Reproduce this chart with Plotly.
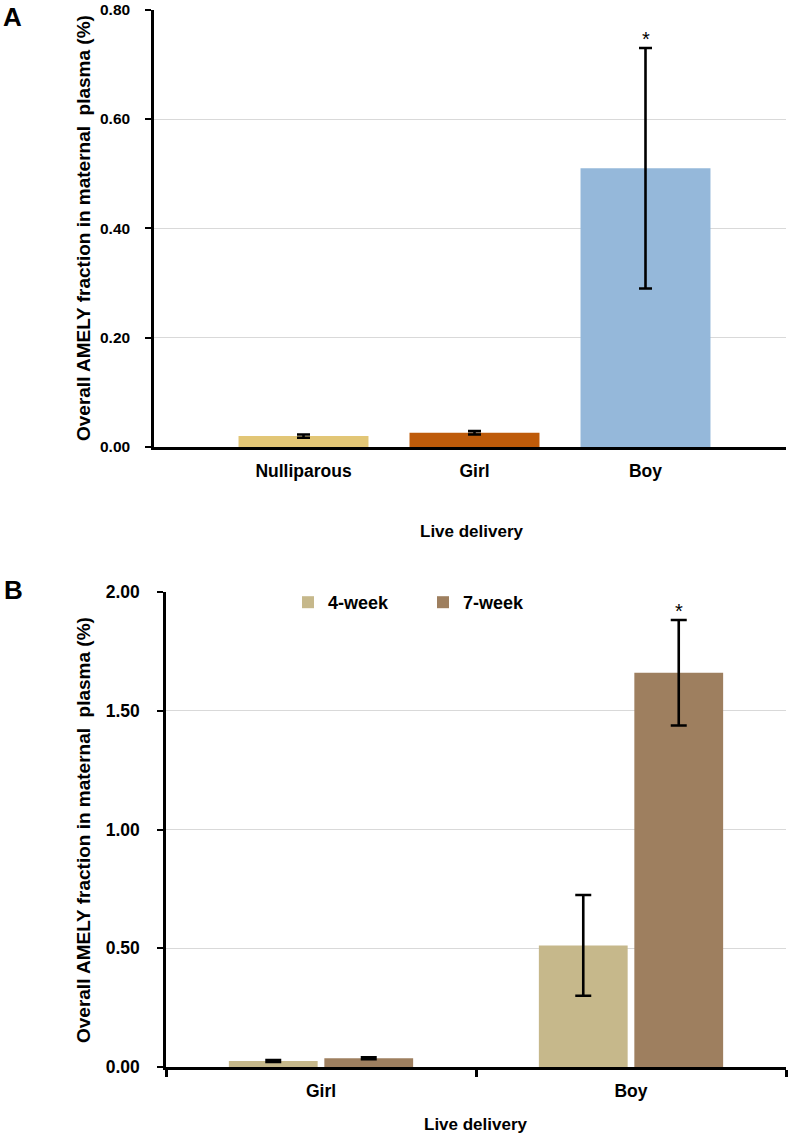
import plotly.graph_objects as go

W, H = 800, 1138

# ---- Data ----
a_categories = ["Nulliparous", "Girl", "Boy"]
a_values = [0.020, 0.026, 0.510]
a_errors = [0.003, 0.003, 0.220]
a_colors = ["#E2C676", "#BE5B0A", "#95B8DA"]

b_categories = ["Girl", "Boy"]
b_4week = [0.025, 0.512]
b_4week_err = [0.004, 0.212]
b_7week = [0.037, 1.660]
b_7week_err = [0.004, 0.222]

a_yticks = [0.0, 0.2, 0.4, 0.6, 0.8]
b_yticks = [0.0, 0.5, 1.0, 1.5, 2.0]

ytitle = "Overall AMELY fraction in maternal\u00a0 plasma (%)"
xtitle = "Live delivery"
FONT = "Liberation Sans, Arial, sans-serif"


def px(x):
    return x / W


def py(y):
    return 1 - y / H


fig = go.Figure()

# Panel A bars
a_x = list(range(len(a_categories)))
fig.add_trace(go.Bar(
    x=a_x, y=a_values, width=0.76,
    marker=dict(color=a_colors, line=dict(width=0)),
    error_y=dict(type="data", array=a_errors, color="black", thickness=2.6, width=6.5),
    xaxis="x", yaxis="y", showlegend=False,
))

# Panel B bars
fig.add_trace(go.Bar(
    x=b_categories, y=b_4week, name="4-week",
    marker=dict(color="#C6B88B", line=dict(width=0)),
    error_y=dict(type="data", array=b_4week_err, color="black", thickness=2.6, width=8),
    xaxis="x2", yaxis="y2",
))
fig.add_trace(go.Bar(
    x=b_categories, y=b_7week, name="7-week",
    marker=dict(color="#9E7F5F", line=dict(width=0)),
    error_y=dict(type="data", array=b_7week_err, color="black", thickness=2.6, width=8),
    xaxis="x2", yaxis="y2",
))

axis_common = dict(showline=True, linecolor="black", linewidth=2.5, zeroline=False,
                   automargin=False)

# Panel A axes: bar centers at px 303.5, 475.5, 645.5 with spacing 171
a_left, a_right = 154, 786
unit = 171.0
c0 = 303.5
fig.update_layout(
    xaxis=dict(domain=[px(a_left), px(a_right)],
               range=[-(c0 - a_left) / unit, (a_right - c0) / unit],
               tickvals=a_x, ticktext=a_categories, ticks="", showgrid=False,
               tickfont=dict(family=FONT, size=17.5, color="black", weight="bold"),
               anchor="y", ticklabelstandoff=6, **axis_common),
    yaxis=dict(domain=[py(447), py(9.7)], range=[0, 0.8],
               tickvals=a_yticks, tickformat=".2f", ticks="outside", ticklen=6,
               tickwidth=2, tickcolor="black", showgrid=True, gridcolor="#d9d9d9",
               gridwidth=1, ticklabelstandoff=12,
               tickfont=dict(family=FONT, size=15.5, color="black", weight="bold"),
               anchor="x", **axis_common),
    xaxis2=dict(domain=[px(166), px(786)], range=[-0.5, 1.5],
                type="category", ticks="outside", tickson="boundaries", ticklen=7,
                tickwidth=2.5, tickcolor="black", showgrid=False,
                tickfont=dict(family=FONT, size=17.5, color="black", weight="bold"),
                anchor="y2", ticklabelstandoff=6, **axis_common),
    yaxis2=dict(domain=[py(1067), py(592)], range=[0, 2.0],
                tickvals=b_yticks, tickformat=".2f", ticks="outside", ticklen=6,
                tickwidth=2, tickcolor="black", showgrid=True, gridcolor="#d9d9d9",
                gridwidth=1, ticklabelstandoff=14,
                tickfont=dict(family=FONT, size=17.5, color="black", weight="bold"),
                anchor="x2", **axis_common),
    barmode="group", bargap=0.384, bargroupgap=0.07,
    width=W, height=H, margin=dict(l=0, r=0, t=0, b=0, autoexpand=False),
    paper_bgcolor="white", plot_bgcolor="white",
    font=dict(family=FONT, color="black"),
    legend=dict(orientation="h", x=px(288), y=py(584), xanchor="left", yanchor="top",
                font=dict(family=FONT, size=18, color="black", weight="bold"),
                bgcolor="rgba(0,0,0,0)", itemwidth=30, traceorder="normal",
                entrywidth=90),
)

ann = []
# Panel letters
ann.append(dict(text="<b>A</b>", x=px(1), y=py(0), xref="paper", yref="paper",
                xanchor="left", yanchor="top", showarrow=False,
                font=dict(family=FONT, size=26, color="black")))
ann.append(dict(text="<b>B</b>", x=px(2), y=py(573), xref="paper", yref="paper",
                xanchor="left", yanchor="top", showarrow=False,
                font=dict(family=FONT, size=26, color="black")))
# Y titles
ann.append(dict(text="<b>" + ytitle + "</b>", x=px(83), y=py(228), xref="paper", yref="paper",
                textangle=-90, showarrow=False, xanchor="center", yanchor="middle",
                font=dict(family=FONT, size=19, color="black")))
ann.append(dict(text="<b>" + ytitle + "</b>", x=px(83), y=py(830), xref="paper", yref="paper",
                textangle=-90, showarrow=False, xanchor="center", yanchor="middle",
                font=dict(family=FONT, size=19, color="black")))
# X titles
ann.append(dict(text="<b>" + xtitle + "</b>", x=px(472), y=py(531), xref="paper", yref="paper",
                showarrow=False, xanchor="center", yanchor="middle",
                font=dict(family=FONT, size=17, color="black")))
ann.append(dict(text="<b>" + xtitle + "</b>", x=px(476), y=py(1124), xref="paper", yref="paper",
                showarrow=False, xanchor="center", yanchor="middle",
                font=dict(family=FONT, size=17, color="black")))
# Significance stars
ann.append(dict(text="*", x=a_x[2], y=a_values[2] + a_errors[2], xref="x", yref="y",
                showarrow=False, yanchor="bottom", yshift=-4,
                font=dict(family=FONT, size=20, color="black")))
ann.append(dict(text="*", x=1.0 + 0.155, y=b_7week[1] + b_7week_err[1], xref="x2", yref="y2",
                showarrow=False, yanchor="bottom", yshift=-4,
                font=dict(family=FONT, size=20, color="black")))
fig.update_layout(annotations=ann)

fig.write_html(
    "out.html",
    config={"displayModeBar": False},
    post_script="document.body.style.margin='0';document.body.style.overflow='hidden';",
)
